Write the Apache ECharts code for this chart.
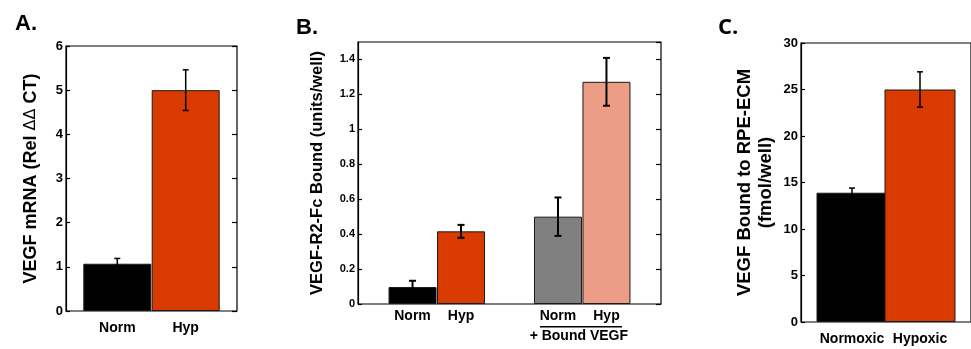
<!DOCTYPE html>
<html>
<head>
<meta charset="utf-8">
<script src="https://cdn.jsdelivr.net/npm/echarts@6/dist/echarts.min.js"></script>
<style>
  html, body { margin: 0; padding: 0; background: #fff; }
  #chart { width: 971px; height: 349px; }
</style>
</head>
<body>
<div id="chart"></div>
<script>
// panel A
const catsA = ['Norm', 'Hyp'];
const posA = [0, 1];
const valsA = [1.07, 5.0];
const errA = [0.12, 0.46];
// panel B
const catsB = ['Norm', 'Hyp', 'Norm', 'Hyp'];
const posB = [0, 1, 3, 4];
const valsB = [0.097, 0.416, 0.50, 1.272];
const errB = [0.036, 0.037, 0.11, 0.137];
const groupLabelB = '+ Bound VEGF';
// panel C
const catsC = ['Normoxic', 'Hypoxic'];
const posC = [0, 1];
const valsC = [13.9, 25.0];
const errC = [0.5, 1.9];

const colorsA = ['#000000', '#D93A00'];
const colorsB = ['#000000', '#D93A00', '#808080', '#EC9D85'];
const colorsC = ['#000000', '#D93A00'];

const FONT = 'Liberation Sans';

const chart = echarts.init(document.getElementById('chart'));

function barSeries(idx, pos, vals, colors, width) {
    return {
        type: 'bar',
        xAxisIndex: idx,
        yAxisIndex: idx * 2,
        barWidth: width,
        data: pos.map((p, i) => ({
            value: [p, vals[i]],
            itemStyle: { color: colors[i], borderColor: '#1a1a1a', borderWidth: 1 }
        })),
        animation: false
    };
}

function errSeries(idx, pos, vals, errs, lw, cap) {
    return {
        type: 'custom',
        xAxisIndex: idx,
        yAxisIndex: idx * 2,
        data: pos.map((p, i) => [p, vals[i], errs[i]]),
        z: 5,
        renderItem: (params, api) => {
            const x = api.value(0), y = api.value(1), e = api.value(2);
            const hi = api.coord([x, y + e]);
            const lo = api.coord([x, y - e]);
            const style = { stroke: '#000', lineWidth: lw };
            return {
                type: 'group',
                children: [
                    { type: 'line', shape: { x1: hi[0], y1: hi[1], x2: lo[0], y2: lo[1] }, style },
                    { type: 'line', shape: { x1: hi[0] - cap, y1: hi[1], x2: hi[0] + cap, y2: hi[1] }, style },
                    { type: 'line', shape: { x1: lo[0] - cap, y1: lo[1], x2: lo[0] + cap, y2: lo[1] }, style }
                ]
            };
        },
        animation: false
    };
}

function xAxisFor(idx, min, max, pos, cats, fontSize, margin) {
    return {
        type: 'value',
        gridIndex: idx,
        min: min,
        max: max,
        axisLine: { show: false },
        axisTick: { show: false },
        splitLine: { show: false },
        axisLabel: {
            customValues: pos,
            formatter: (v) => {
                const i = pos.indexOf(v);
                return i >= 0 ? cats[i] : '';
            },
            color: '#000',
            fontFamily: FONT,
            fontWeight: 'bold',
            fontSize: fontSize,
            margin: margin
        }
    };
}

function yAxesFor(idx, max, interval, name, nameGap, nameSize, labelSize, showRight) {
    return [{
        type: 'value',
        gridIndex: idx,
        min: 0,
        max: max,
        interval: interval,
        position: 'left',
        splitLine: { show: false },
        axisLine: { show: true, onZero: false, lineStyle: { color: '#000', width: 1.2 } },
        axisTick: { show: true, inside: true, length: 4, lineStyle: { color: '#000', width: 1.2 } },
        axisLabel: {
            color: '#000', fontFamily: FONT, fontWeight: 'bold', fontSize: labelSize,
            margin: 3, showMaxLabel: max % interval === 0
        },
        name: name,
        nameLocation: 'middle',
        nameRotate: 90,
        nameGap: nameGap,
        nameTextStyle: {
            color: '#000', fontFamily: FONT, fontWeight: 'bold', fontSize: nameSize, lineHeight: nameSize + 2,
            rich: { d: { fontFamily: 'DejaVu Sans', fontWeight: 'normal', fontSize: nameSize - 2, color: '#000' } }
        }
    }, {
        type: 'value',
        gridIndex: idx,
        min: 0,
        max: max,
        interval: interval,
        position: 'right',
        show: showRight,
        splitLine: { show: false },
        axisLine: { show: false, onZero: false },
        axisTick: { show: true, inside: true, length: 5, lineStyle: { color: '#000', width: 1.2 } },
        axisLabel: { show: false }
    }];
}

const gridStyle = { show: true, borderColor: '#000', borderWidth: 1.2, backgroundColor: 'transparent' };

const option = {
    backgroundColor: '#fff',
    animation: false,
    title: [
        { text: 'A.', left: 10, top: 8, textStyle: { fontFamily: FONT, fontWeight: 'bold', fontSize: 22, color: '#000' } },
        { text: 'B.', left: 291, top: 12, textStyle: { fontFamily: FONT, fontWeight: 'bold', fontSize: 22, color: '#000' } },
        { text: 'C.', left: 713, top: 12, textStyle: { fontFamily: 'Open Sans', fontWeight: 'bold', fontSize: 22, color: '#000' } }
    ],
    grid: [
        Object.assign({ left: 66, top: 46, width: 171, height: 265 }, gridStyle),
        Object.assign({ left: 358, top: 42, width: 303, height: 262 }, gridStyle),
        Object.assign({ left: 801, top: 43, width: 178, height: 279 }, gridStyle)
    ],
    xAxis: [
        xAxisFor(0, -0.75, 1.75, posA, catsA, 14, 10),
        xAxisFor(1, -1.125, 5.125, posB, catsB, 14, 5),
        xAxisFor(2, -0.75, 1.75, posC, catsC, 14, 10)
    ],
    yAxis: [].concat(
        yAxesFor(0, 6, 1, 'VEGF mRNA (Rel {d|ΔΔ} CT)', 25, 18, 13, true),
        yAxesFor(1, 1.5, 0.2, 'VEGF-R2-Fc Bound (units/well)', 31, 16.5, 11, true),
        yAxesFor(2, 30, 5, 'VEGF Bound to RPE-ECM\n(fmol/well)', 25, 18.5, 13, false)
    ),
    series: [
        barSeries(0, posA, valsA, colorsA, 68),
        errSeries(0, posA, valsA, errA, 1.5, 3),
        barSeries(1, posB, valsB, colorsB, 48),
        errSeries(1, posB, valsB, errB, 2, 3.5),
        barSeries(2, posC, valsC, colorsC, 71),
        errSeries(2, posC, valsC, errC, 1.5, 3)
    ]
};

chart.setOption(option);

// underline and group caption for the bound-VEGF pair in panel B
const lineStart = chart.convertToPixel({ gridIndex: 1 }, [2.63, -0.13]);
const lineEnd = chart.convertToPixel({ gridIndex: 1 }, [4.32, -0.13]);
const captionAt = chart.convertToPixel({ gridIndex: 1 }, [3.43, -0.185]);
chart.setOption({
    graphic: [{
        type: 'line',
        shape: { x1: lineStart[0], y1: lineStart[1], x2: lineEnd[0], y2: lineEnd[1] },
        style: { stroke: '#000', lineWidth: 1.5 }
    }, {
        type: 'text',
        x: captionAt[0],
        y: captionAt[1],
        style: {
            text: groupLabelB,
            fill: '#000',
            font: 'bold 14px "' + FONT + '"',
            align: 'center',
            verticalAlign: 'middle'
        }
    }]
});
</script>
</body>
</html>
